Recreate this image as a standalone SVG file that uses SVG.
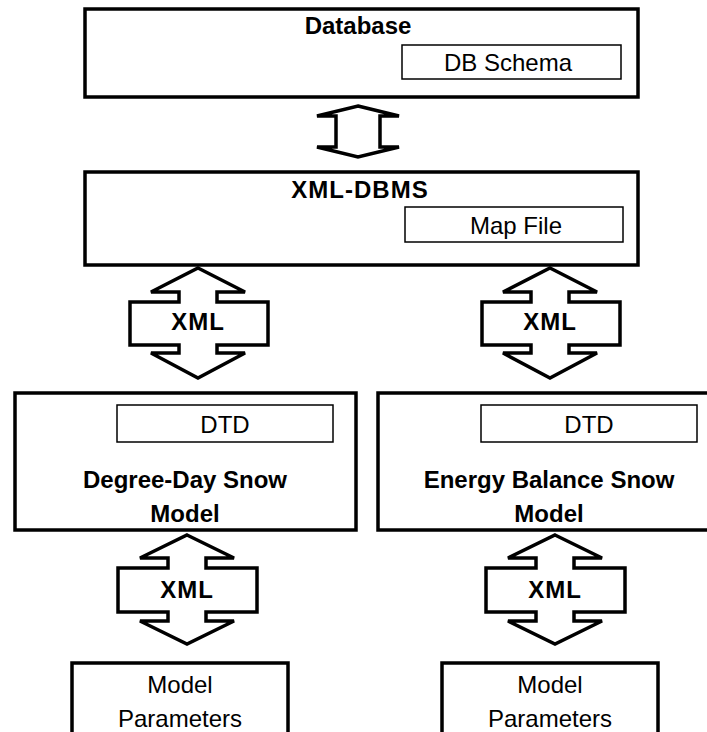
<svg xmlns="http://www.w3.org/2000/svg" width="707" height="732" viewBox="0 0 707 732">
<style>
.box{fill:#fff;stroke:#000;stroke-width:3.5}
.sub{fill:#fff;stroke:#000;stroke-width:1.5}
.arr{fill:#fff;stroke:#000;stroke-width:3.5;stroke-linejoin:miter}
.b{font-family:"Liberation Sans",Arial,sans-serif;font-weight:bold;font-size:24px;text-anchor:middle;fill:#000}
.r{font-family:"Liberation Sans",Arial,sans-serif;font-size:24px;text-anchor:middle;fill:#000}
</style>
<rect width="707" height="732" fill="#fff"/>
<g id="database">
<rect class="box" x="85" y="9" width="553" height="88"/>
<text class="b" x="358" y="34">Database</text>
<g id="db-schema">
<rect class="sub" x="402" y="45" width="219" height="34"/>
<text class="r" x="508" y="71">DB Schema</text>
</g>
</g>
<g id="xml-dbms">
<rect class="box" x="85" y="172" width="553" height="93"/>
<text class="b" x="360" y="198" letter-spacing="1">XML-DBMS</text>
<g id="map-file">
<rect class="sub" x="405" y="207" width="218" height="35"/>
<text class="r" x="516" y="234">Map File</text>
</g>
</g>
<g id="degree-day">
<rect class="box" x="15" y="393" width="341" height="137"/>
<rect class="sub" x="117" y="405" width="216" height="37"/>
<text class="r" x="225" y="433">DTD</text>
<text class="b" x="185" y="488">Degree-Day Snow</text>
<text class="b" x="185" y="522">Model</text>
</g>
<g id="energy-balance">
<rect class="box" x="378" y="393" width="342" height="137"/>
<rect class="sub" x="481" y="405" width="216" height="37"/>
<text class="r" x="589" y="433">DTD</text>
<text class="b" x="549" y="488">Energy Balance Snow</text>
<text class="b" x="549" y="522">Model</text>
</g>
<g id="params-left">
<rect class="box" x="72" y="663" width="216" height="80"/>
<text class="r" x="180" y="693">Model</text>
<text class="r" x="180" y="727">Parameters</text>
</g>
<g id="params-right">
<rect class="box" x="442" y="663" width="216" height="80"/>
<text class="r" x="550" y="693">Model</text>
<text class="r" x="550" y="727">Parameters</text>
</g>
<g id="connectors">
<path class="arr" d="M358,106 L399,116 L380,116 L380,147 L399,147 L358,157 L317,147 L336,147 L336,116 L317,116 Z"/>
<path class="arr" d="M198,268 L245,292 L217,292 L217,302 L268,302 L268,345 L217,345 L217,353 L245,353 L198,378 L151,353 L179,353 L179,345 L130,345 L130,302 L179,302 L179,292 L151,292 Z"/>
<text class="b" x="198" y="330" letter-spacing="1">XML</text>
<path class="arr" d="M550,268 L597,292 L569,292 L569,302 L620,302 L620,345 L569,345 L569,353 L597,353 L550,378 L503,353 L531,353 L531,345 L482,345 L482,302 L531,302 L531,292 L503,292 Z"/>
<text class="b" x="550" y="330" letter-spacing="1">XML</text>
<path class="arr" d="M187,535 L234,558 L206,558 L206,568 L257,568 L257,612 L206,612 L206,621 L234,621 L187,644 L140,621 L168,621 L168,612 L118,612 L118,568 L168,568 L168,558 L140,558 Z"/>
<text class="b" x="187" y="598" letter-spacing="1">XML</text>
<path class="arr" d="M555,535 L602,558 L574,558 L574,568 L625,568 L625,612 L574,612 L574,621 L602,621 L555,644 L508,621 L536,621 L536,612 L486,612 L486,568 L536,568 L536,558 L508,558 Z"/>
<text class="b" x="555" y="598" letter-spacing="1">XML</text>
</g>
</svg>
